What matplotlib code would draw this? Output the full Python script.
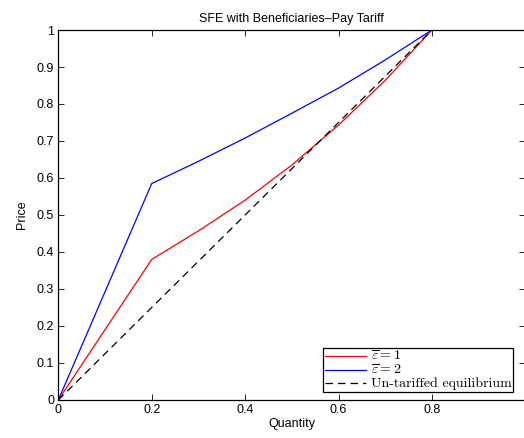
import matplotlib
matplotlib.use("Agg")
import matplotlib.pyplot as plt

# data
quantity = [0.0, 0.2, 0.3, 0.4, 0.5, 0.6, 0.7, 0.8]
price_eps1 = [0.0, 0.38, 0.457, 0.54, 0.635, 0.743, 0.864, 1.0]
price_eps2 = [0.0, 0.585, 0.645, 0.708, 0.775, 0.843, 0.919, 1.0]
untariffed_q = [0.0, 0.8]
untariffed_p = [0.0, 1.0]

# the tick at 1 lies just off the right edge of the picture
x_ticks = [0, 0.2, 0.4, 0.6, 0.8]
x_ticklabels = ["0", "0.2", "0.4", "0.6", "0.8"]
y_ticks = [0, 0.1, 0.2, 0.3, 0.4, 0.5, 0.6, 0.7, 0.8, 0.9, 1]
y_ticklabels = ["0", "0.1", "0.2", "0.3", "0.4", "0.5", "0.6", "0.7", "0.8", "0.9", "1"]
legend_labels = [r"$\overline{\varepsilon} = 1$", r"$\overline{\varepsilon} = 2$",
                 "Un-tariffed equilibrium"]

plt.rcParams["font.family"] = ["Liberation Sans", "DejaVu Sans"]
plt.rcParams["mathtext.fontset"] = "cm"

fig = plt.figure(figsize=(5.24, 4.38), dpi=100)
ax = fig.add_axes([0.1113, 0.0868, 0.8912, 0.8447])

ax.plot(quantity, price_eps1, color="red", lw=0.9, label=legend_labels[0])
ax.plot(quantity, price_eps2, color="blue", lw=0.9, label=legend_labels[1])
ax.plot(untariffed_q, untariffed_p, color="black", lw=0.9, ls=(0, (6, 4)),
        label=legend_labels[2])

ax.set_xlim(0, 1)
ax.set_ylim(0, 1)
ax.set_xticks(x_ticks, x_ticklabels)
ax.set_yticks(y_ticks, y_ticklabels)
ax.tick_params(direction="in", top=True, right=True, length=4, width=0.6,
               labelsize=9, pad=3)
for sp in ax.spines.values():
    sp.set_linewidth(0.9)

ax.set_title("SFE with Beneficiaries\u2013Pay Tariff", fontsize=9, pad=6)
ax.set_xlabel("Quantity", fontsize=9, labelpad=1)
ax.set_ylabel("Price", fontsize=9, labelpad=6)

leg = ax.legend(loc="lower right", bbox_to_anchor=(0.974, 0.022),
                borderaxespad=0, fancybox=False, framealpha=1,
                prop={"family": "cmr10", "size": 10}, handlelength=3.0,
                handletextpad=0.35, labelspacing=0.0, borderpad=0.1)
leg.get_frame().set_edgecolor("black")
leg.get_frame().set_linewidth(0.9)

fig.savefig("out.png", dpi=100)
